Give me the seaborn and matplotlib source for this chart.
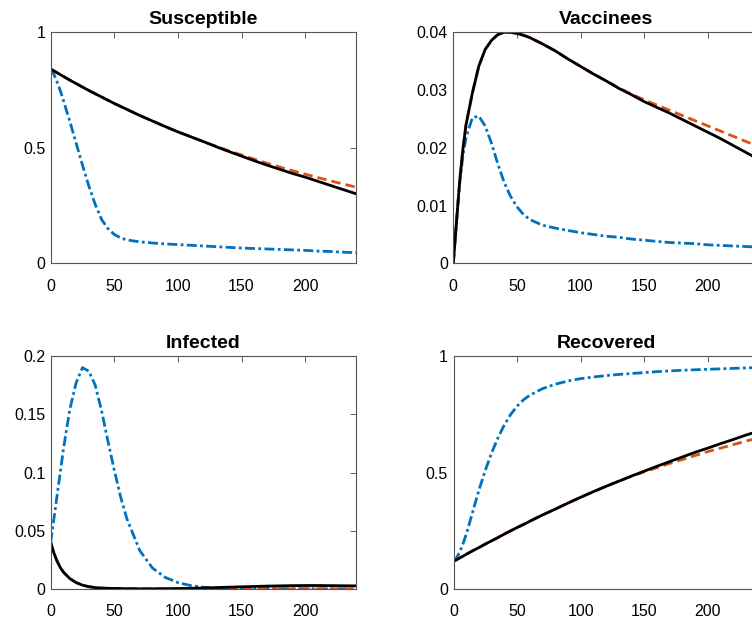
import numpy as np
import pandas as pd
import matplotlib
matplotlib.use("Agg")
import matplotlib.pyplot as plt
import seaborn as sns
from matplotlib.ticker import FuncFormatter

# time axis (days)
days = [0, 2.5, 5, 7.5, 10, 15, 20, 25, 30, 35, 40, 45, 50, 55, 60, 70, 80, 90, 100,
        110, 120, 130, 140, 150, 160, 170, 180, 190, 200, 210, 220, 230, 240]

# Susceptible
s_none = [0.841, 0.818, 0.785, 0.748, 0.705, 0.615, 0.520, 0.425, 0.335, 0.255, 0.190,
          0.150, 0.125, 0.110, 0.101, 0.093, 0.088, 0.084, 0.081, 0.078, 0.075, 0.072,
          0.069, 0.066, 0.064, 0.062, 0.060, 0.058, 0.056, 0.053, 0.051, 0.048, 0.046]
s_alt = [0.841, 0.833, 0.825, 0.817, 0.809, 0.793, 0.778, 0.763, 0.748, 0.734, 0.720,
         0.706, 0.692, 0.679, 0.666, 0.640, 0.616, 0.592, 0.569, 0.548, 0.527, 0.507,
         0.487, 0.469, 0.451, 0.433, 0.417, 0.401, 0.386, 0.371, 0.357, 0.343, 0.330]
s_opt = [0.841, 0.833, 0.825, 0.817, 0.809, 0.793, 0.778, 0.763, 0.748, 0.734, 0.720,
         0.706, 0.692, 0.679, 0.666, 0.640, 0.616, 0.592, 0.569, 0.548, 0.527, 0.505,
         0.484, 0.464, 0.444, 0.425, 0.407, 0.389, 0.373, 0.355, 0.337, 0.319, 0.301]

# Vaccinees
v_none = [0, 0.0070, 0.0138, 0.0185, 0.0218, 0.0252, 0.0255, 0.0238, 0.0208, 0.0172,
          0.0140, 0.0116, 0.0098, 0.0085, 0.0076, 0.0066, 0.0061, 0.0057, 0.0053, 0.0050,
          0.0047, 0.0045, 0.0042, 0.0040, 0.0038, 0.0036, 0.0035, 0.0034, 0.0032, 0.0031,
          0.0030, 0.0029, 0.0028]
v_alt = [0, 0.0072, 0.0142, 0.0197, 0.0240, 0.0295, 0.0341, 0.0370, 0.0386, 0.0396,
         0.0400, 0.0400, 0.0398, 0.0395, 0.0391, 0.0380, 0.0368, 0.0354, 0.0341, 0.0328,
         0.0316, 0.0304, 0.0293, 0.0283, 0.0274, 0.0265, 0.0256, 0.0247, 0.0238, 0.0229,
         0.0220, 0.0211, 0.0202]
v_opt = [0, 0.0072, 0.0142, 0.0197, 0.0240, 0.0295, 0.0341, 0.0370, 0.0386, 0.0396,
         0.0400, 0.0400, 0.0398, 0.0395, 0.0391, 0.0380, 0.0368, 0.0354, 0.0341, 0.0328,
         0.0316, 0.0303, 0.0292, 0.0280, 0.0270, 0.0260, 0.0249, 0.0238, 0.0227, 0.0216,
         0.0204, 0.0192, 0.0180]

# Infected
i_none = [0.040, 0.060, 0.080, 0.100, 0.120, 0.154, 0.177, 0.190, 0.187, 0.175, 0.153,
          0.127, 0.102, 0.079, 0.060, 0.033, 0.018, 0.010, 0.0055, 0.003, 0.0015, 0.0009,
          0.0006, 0.0005, 0.0004, 0.0004, 0.0003, 0.0003, 0.0003, 0.0002, 0.0002, 0.0002,
          0.0002]
i_alt = [0.040, 0.031, 0.024, 0.0185, 0.0145, 0.009, 0.0055, 0.0033, 0.002, 0.0012,
         0.0008, 0.0006, 0.0005, 0.0004, 0.0003, 0.0002, 0.0002, 0.0002, 0.0001, 0.0001,
         0.0001, 0.0001, 0.0001, 0.0001, 0.0001, 0.0001, 0.0001, 0.0001, 0.0001, 0.0001,
         0.0001, 0.0001, 0.0001]
i_opt = [0.040, 0.031, 0.024, 0.0185, 0.0145, 0.009, 0.0055, 0.0033, 0.002, 0.0012,
         0.0008, 0.0006, 0.0005, 0.0004, 0.0003, 0.0002, 0.0002, 0.0003, 0.0004, 0.0006,
         0.0009, 0.0012, 0.0016, 0.0019, 0.0022, 0.0025, 0.0027, 0.0029, 0.0030, 0.0030,
         0.0029, 0.0028, 0.0027]

# Recovered
r_none = [0.119, 0.135, 0.160, 0.195, 0.235, 0.330, 0.425, 0.510, 0.585, 0.650, 0.705,
          0.750, 0.785, 0.812, 0.832, 0.860, 0.879, 0.893, 0.903, 0.910, 0.916, 0.921,
          0.925, 0.929, 0.933, 0.936, 0.939, 0.941, 0.943, 0.945, 0.947, 0.949, 0.951]
r_alt = [0.119, 0.126, 0.134, 0.141, 0.149, 0.164, 0.178, 0.193, 0.207, 0.221, 0.236,
         0.250, 0.264, 0.277, 0.291, 0.318, 0.343, 0.369, 0.394, 0.418, 0.441, 0.463,
         0.484, 0.503, 0.521, 0.539, 0.556, 0.573, 0.590, 0.605, 0.620, 0.635, 0.649]
r_opt = [0.119, 0.126, 0.134, 0.141, 0.149, 0.164, 0.178, 0.193, 0.207, 0.221, 0.236,
         0.250, 0.264, 0.277, 0.291, 0.318, 0.343, 0.369, 0.394, 0.418, 0.441, 0.463,
         0.485, 0.506, 0.527, 0.547, 0.567, 0.587, 0.605, 0.624, 0.642, 0.661, 0.678]

titles = ["Susceptible", "Vaccinees", "Infected", "Recovered"]
yticks = [[0, 0.5, 1], [0, 0.01, 0.02, 0.03, 0.04],
          [0, 0.05, 0.1, 0.15, 0.2], [0, 0.5, 1]]
xticks = [0, 50, 100, 150, 200]

panels = [(s_none, s_alt, s_opt), (v_none, v_alt, v_opt),
          (i_none, i_alt, i_opt), (r_none, r_alt, r_opt)]

# style
sns.set_style("white")
plt.rcParams["font.family"] = ["Liberation Sans", "DejaVu Sans"]

fig = plt.figure(figsize=(7.52, 6.21), dpi=100)
positions = [
    [0.0674, 0.5760, 0.4060, 0.3720],
    [0.6028, 0.5760, 0.4060, 0.3720],
    [0.0674, 0.0515, 0.4060, 0.3752],
    [0.6031, 0.0515, 0.4060, 0.3752],
]

for pos, title, yt, series in zip(positions, titles, yticks, panels):
    ax = fig.add_axes(pos)
    none, alt, opt = series
    df = pd.DataFrame({"t": days, "none": none, "alt": alt, "opt": opt})

    sns.lineplot(data=df, x="t", y="none", ax=ax, color="#0072BD", linewidth=2.0,
                 linestyle=(0, (3.6, 1.2, 1.0, 1.2)))
    sns.lineplot(data=df, x="t", y="alt", ax=ax, color="#D95319", linewidth=2.0,
                 linestyle=(0, (3.4, 1.8)))
    sns.lineplot(data=df, x="t", y="opt", ax=ax, color="black", linewidth=2.0)

    ax.set_xlim(0, 240)
    ax.set_ylim(yt[0], yt[-1])
    ax.set_xticks(xticks)
    ax.set_yticks(yt)
    ax.xaxis.set_major_formatter(FuncFormatter(lambda v, p: f"{v:g}"))
    ax.yaxis.set_major_formatter(FuncFormatter(lambda v, p: f"{v:g}"))
    ax.set_xlabel("")
    ax.set_ylabel("")
    ax.set_title(title, fontsize=14, fontweight="bold", color="black", pad=6)

    ax.tick_params(direction="in", top=True, right=True, length=4, width=0.6,
                   color="#444444", labelsize=11.5, labelcolor="black")
    ax.tick_params(axis="x", pad=11)
    ax.tick_params(axis="y", pad=4)
    for sp in ax.spines.values():
        sp.set_linewidth(0.8)
        sp.set_color("#555555")

fig.savefig("out.png", dpi=100)
